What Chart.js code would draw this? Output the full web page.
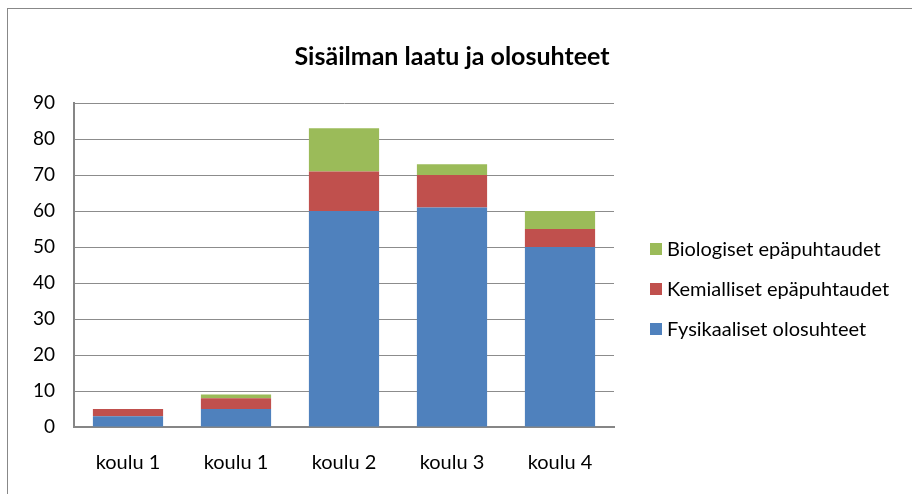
<!DOCTYPE html>
<html>
<head>
<meta charset="utf-8">
<script src="https://cdn.jsdelivr.net/npm/chart.js@4/dist/chart.umd.min.js"></script>
<style>
  html, body { margin: 0; padding: 0; background: #fff; overflow: hidden; }
  #wrap { position: relative; width: 912px; height: 494px; overflow: hidden; }
  #frame { position: absolute; left: 7px; top: 8px; width: 940px; height: 520px; border: 1px solid #888; box-sizing: border-box; }
  canvas { position: absolute; left: 0; top: 0; }
</style>
</head>
<body>
<div id="wrap">
  <div id="frame"></div>
  <canvas id="chart" width="912" height="494"></canvas>
</div>
<script>
'use strict'

let labels = ['koulu 1', 'koulu 1', 'koulu 2', 'koulu 3', 'koulu 4'];
let fysikaaliset = [3, 5, 60, 61, 50];
let kemialliset = [2, 3, 11, 9, 5];
let biologiset = [0, 1, 12, 3, 5];
let yTicks = [0, 10, 20, 30, 40, 50, 60, 70, 80, 90];
let chartTitle = 'Sisäilman laatu ja olosuhteet';

const fontFamily = 'Lato, "Open Sans", sans-serif';

// title + legend drawn by hand (title is centred on the whole frame, legend top row = last dataset)
const sideLegend = {
    id: 'sideLegend',
    afterDraw(chart) {
        const ctx = chart.ctx;
        ctx.save();
        ctx.fillStyle = '#000';
        ctx.textBaseline = 'middle';
        ctx.textAlign = 'center';
        ctx.font = 'bold 25px ' + fontFamily;
        ctx.fillText(chartTitle, 452, 57);

        ctx.textAlign = 'left';
        ctx.font = '20px ' + fontFamily;
        const sets = chart.data.datasets.slice().reverse();
        sets.forEach((ds, i) => {
            const y = 249 + i * 40;
            ctx.fillStyle = ds.backgroundColor;
            ctx.fillRect(650, y - 6, 12, 12);
            ctx.fillStyle = '#000';
            ctx.fillText(ds.label, 667, y + 1);
        });
        ctx.restore();
    }
};

window.onload = function () {
    const data = {
        labels: labels,
        datasets: [
            { label: 'Fysikaaliset olosuhteet', data: fysikaaliset, backgroundColor: '#4F81BD' },
            { label: 'Kemialliset epäpuhtaudet', data: kemialliset, backgroundColor: '#C0504D' },
            { label: 'Biologiset epäpuhtaudet', data: biologiset, backgroundColor: '#9BBB59' }
        ]
    };

    new Chart(document.getElementById('chart'), {
        type: 'bar',
        data: data,
        options: {
            responsive: false,
            animation: false,
            layout: { padding: { left: 0, right: 298, top: 103, bottom: 0 } },
            datasets: { bar: { barPercentage: 0.65, categoryPercentage: 1.0 } },
            plugins: {
                legend: { display: false },
                tooltip: { enabled: false },
                title: { display: false }
            },
            scales: {
                x: {
                    stacked: true,
                    grid: { display: false, drawTicks: false },
                    border: { color: '#868686', width: 2 },
                    ticks: { color: '#000', padding: 24, font: { family: fontFamily, size: 20 } },
                    afterFit: s => { s.height = 67; }
                },
                y: {
                    stacked: true,
                    min: 0,
                    max: 90,
                    afterBuildTicks: s => { s.ticks = yTicks.map(v => ({ value: v })); },
                    grid: { color: '#8c8c8c', lineWidth: 1, drawTicks: false },
                    border: { color: '#868686', width: 2 },
                    ticks: { color: '#000', padding: 19, font: { family: fontFamily, size: 19 } },
                    afterFit: s => { s.width = 74; }
                }
            }
        },
        plugins: [sideLegend]
    });
};
</script>
</body>
</html>
